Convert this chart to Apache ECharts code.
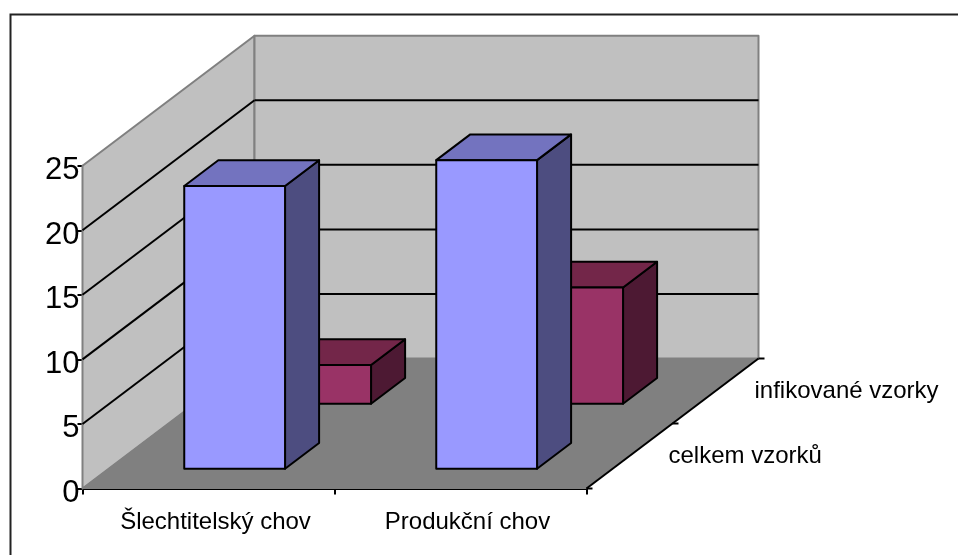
<!DOCTYPE html>
<html>
<head>
<meta charset="utf-8">
<style>html,body{margin:0;padding:0;background:#fff}#chart{width:958px;height:555px}</style>
<script src="https://cdn.jsdelivr.net/npm/echarts@6/dist/echarts.min.js"></script>
</head>
<body>
<div id="chart"></div>
<script>
// Sample counts per breeding type
const categories = ['Šlechtitelský chov', 'Produkční chov'];
const depthNames = ['celkem vzorků', 'infikované vzorky'];
const totalSamples = [21.9, 23.9];
const infectedSamples = [3, 9];
const yTicks = [0, 5, 10, 15, 20, 25];

// Oblique projection of the depth axis, in pixels for the full floor depth
const DEPTH_X = 172;
const DEPTH_Y = 130;
const SLOT_GAP = 0.152;   // gap in front of a bar within its depth slot
const BAR_DEPTH = 0.198;  // bar depth as a share of the floor depth
const BAR_WIDTH = 0.4;    // bar width as a share of the category band
const FONT = '"Liberation Sans", Arial, sans-serif';

const shift = (p, z) => [p[0] + z * DEPTH_X, p[1] - z * DEPTH_Y];
const EDGE = { stroke: '#000', lineWidth: 2 };

function poly(points, fill, stroke, lineWidth) {
  return { type: 'polygon', shape: { points }, style: { fill, stroke, lineWidth, lineJoin: 'round' } };
}
function line(a, b, stroke, lineWidth) {
  return { type: 'line', shape: { x1: a[0], y1: a[1], x2: b[0], y2: b[1] }, style: { stroke, lineWidth } };
}

// Side wall, back wall, floor and depth axis
function renderRoom(params, api) {
  const top = yTicks[yTicks.length - 1];
  const cs = params.coordSys;
  const o = [cs.x, api.coord([0, 0])[1]];
  const t = [cs.x, api.coord([0, top])[1]];
  const r = [cs.x + cs.width, o[1]];
  const rt = [cs.x + cs.width, t[1]];
  const rim = '#808080';
  const ticks = [0, 0.5, 1].map(z => {
    const p = shift(r, z);
    return line(p, [p[0] + 6, p[1]], '#000', 2);
  });
  return {
    type: 'group',
    children: [
      poly([o, shift(o, 1), shift(t, 1), t], '#C0C0C0', rim, 2),
      poly([shift(o, 1), shift(r, 1), shift(rt, 1), shift(t, 1)], '#C0C0C0', rim, 2),
      poly([o, r, shift(r, 1), shift(o, 1)], '#808080', rim, 1),
      line(r, shift(r, 1), '#000', 2),
      ...ticks
    ]
  };
}

// One gridline: across the side wall, then along the back wall
function renderGridline(params, api) {
  const cs = params.coordSys;
  const y = api.coord([0, api.value(1)])[1];
  const front = [cs.x, y];
  const back = shift(front, 1);
  return {
    type: 'group',
    children: [
      line(front, back, '#000', 2),
      line(back, [back[0] + cs.width, back[1]], '#000', 2)
    ]
  };
}

// A solid bar standing in the given depth slot
function barRenderer(slot, faces) {
  return function (params, api) {
    const center = api.coord([api.value(0), 0]);
    const topY = api.coord([api.value(0), api.value(1)])[1];
    const w = api.size([1, 0])[0] * BAR_WIDTH;
    const z = slot * 0.5 + SLOT_GAP;
    const bl = shift([center[0] - w / 2, center[1]], z);
    const br = [bl[0] + w, bl[1]];
    const lift = center[1] - topY;
    const tl = [bl[0], bl[1] - lift];
    const tr = [br[0], br[1] - lift];
    return {
      type: 'group',
      children: [
        poly([br, shift(br, BAR_DEPTH), shift(tr, BAR_DEPTH), tr], faces.side, EDGE.stroke, EDGE.lineWidth),
        poly([tl, tr, shift(tr, BAR_DEPTH), shift(tl, BAR_DEPTH)], faces.top, EDGE.stroke, EDGE.lineWidth),
        poly([bl, br, tr, tl], faces.front, EDGE.stroke, EDGE.lineWidth)
      ]
    };
  };
}

// Names along the depth axis, centred on their slots
function renderDepthLabel(params, api) {
  const cs = params.coordSys;
  const p = shift([cs.x + cs.width, api.coord([0, 0])[1]], (params.dataIndex + 0.5) * 0.5);
  return {
    type: 'text',
    style: {
      x: p[0] + 39, y: p[1],
      text: depthNames[params.dataIndex],
      fill: '#000', font: '24px ' + FONT,
      textAlign: 'left', textVerticalAlign: 'middle'
    }
  };
}

const chart = echarts.init(document.getElementById('chart'), null, { renderer: 'canvas' });
chart.setOption({
  animation: false,
  backgroundColor: '#fff',
  graphic: [{
    type: 'rect',
    silent: true,
    shape: { x: 10.5, y: 14.5, width: 1000, height: 600 },
    style: { fill: 'none', stroke: '#222', lineWidth: 2 }
  }],
  grid: { left: 82.5, top: 165.7, width: 504, height: 322.8 },
  xAxis: {
    type: 'category',
    data: categories,
    axisLine: { lineStyle: { color: '#000', width: 2 } },
    axisTick: { show: true, length: 6, lineStyle: { color: '#000', width: 2 } },
    axisLabel: { color: '#000', fontFamily: FONT, fontSize: 24, margin: 22, padding: [0, 0, 0, 14], interval: 0 }
  },
  yAxis: {
    type: 'value',
    min: 0,
    max: 25,
    interval: 5,
    splitLine: { show: false },
    axisLine: { show: true, lineStyle: { color: '#000', width: 2 } },
    axisTick: { show: true, length: 5, lineStyle: { color: '#000', width: 2 } },
    axisLabel: { color: '#000', fontFamily: FONT, fontSize: 31, margin: 3, verticalAlign: 'top', lineHeight: 10 }
  },
  series: [
    { type: 'custom', name: 'room', silent: true, z: 1, renderItem: renderRoom, data: [[0, 0]] },
    { type: 'custom', name: 'gridlines', silent: true, z: 1, renderItem: renderGridline,
      data: yTicks.filter(t => t > 0 && t < 25).map(t => [0, t]) },
    { type: 'custom', name: depthNames[1], silent: true, z: 2,
      renderItem: barRenderer(1, { front: '#993366', top: '#732649', side: '#4D1933' }),
      data: infectedSamples.map((v, i) => [i, v]) },
    { type: 'custom', name: depthNames[0], silent: true, z: 3,
      renderItem: barRenderer(0, { front: '#9999FF', top: '#7373BF', side: '#4D4D80' }),
      data: totalSamples.map((v, i) => [i, v]) },
    { type: 'custom', name: 'depth labels', silent: true, z: 4, renderItem: renderDepthLabel,
      data: depthNames.map((n, i) => [i, 0]) }
  ]
});
</script>
</body>
</html>
